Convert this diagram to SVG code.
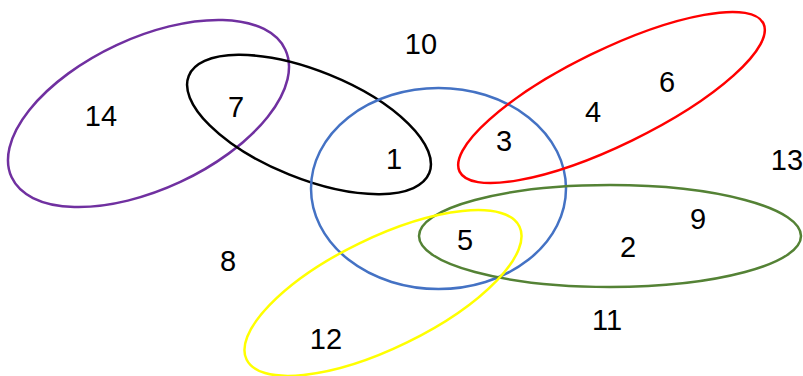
<svg xmlns="http://www.w3.org/2000/svg" width="803" height="376" viewBox="0 0 803 376">
<style>
.s{fill:none;stroke-width:2.5}
text{font-family:"Liberation Sans",Arial,sans-serif;font-size:29px;fill:#000;text-anchor:middle}
</style>
<rect width="803" height="376" fill="#fff"/>
<g id="set-purple"><ellipse class="s" stroke="#7030A0" cx="148.5" cy="113.5" rx="151" ry="75.5" transform="rotate(-25 148.5 113.5)"/></g>
<g id="set-black"><ellipse class="s" stroke="#000" cx="309" cy="124.5" rx="129.7" ry="53.8" transform="rotate(22 309 124.5)"/></g>
<g id="set-blue"><ellipse class="s" stroke="#4472C4" cx="438.5" cy="188.5" rx="127.5" ry="100.5"/></g>
<g id="set-red"><ellipse class="s" stroke="#FF0000" cx="611.5" cy="97.5" rx="169" ry="47.6" transform="rotate(-26 611.5 97.5)"/></g>
<g id="set-green"><ellipse class="s" stroke="#548235" cx="610" cy="236" rx="191" ry="51"/></g>
<g id="set-yellow"><ellipse class="s" stroke="#FFFF00" cx="383" cy="293" rx="151.8" ry="55" transform="rotate(-26 383 293)"/></g>
<g id="labels">
<text x="101" y="126">14</text>
<text x="236" y="117">7</text>
<text x="421" y="54">10</text>
<text x="394" y="169">1</text>
<text x="504" y="151">3</text>
<text x="593" y="122">4</text>
<text x="667" y="92">6</text>
<text x="787" y="170">13</text>
<text x="698" y="229">9</text>
<text x="628" y="257">2</text>
<text x="465" y="250">5</text>
<text x="228" y="271">8</text>
<text x="607" y="330">11</text>
<text x="326" y="349">12</text>
</g>
</svg>
